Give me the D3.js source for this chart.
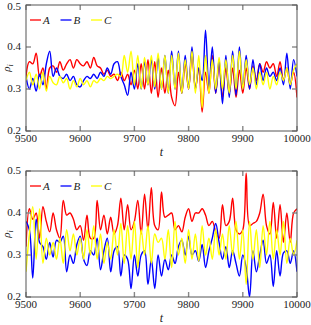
<!DOCTYPE html>
<html>
<head>
<meta charset="utf-8">
<script src="https://cdn.jsdelivr.net/npm/d3@7"></script>
<style>
  body { margin: 0; background: #fff; }
  svg { display: block; }
  text { font-family: "Liberation Serif", "DejaVu Serif", serif; fill: #222; }
</style>
</head>
<body>
<script>
// sampling grid of the time axis (every 6.25 time units)
let tVals = d3.range(81).map(function (i) { return 9500 + i * 6.25 })

let xTicks = [9500, 9600, 9700, 9800, 9900, 10000]
let yTicks = [0.2, 0.3, 0.4, 0.5]
let names = ['A', 'B', 'C']
let colors = ['#ff0000', '#0000ff', '#ffff00']

// top panel
let topA = [0.33, 0.365, 0.36, 0.385, 0.33, 0.35, 0.30, 0.35, 0.355, 0.34,
  0.365, 0.345, 0.36, 0.37, 0.35, 0.37, 0.36, 0.355, 0.365, 0.35,
  0.375, 0.355, 0.35, 0.335, 0.345, 0.33, 0.335, 0.32, 0.34, 0.32,
  0.335, 0.31, 0.345, 0.30, 0.36, 0.30, 0.37, 0.29, 0.365, 0.28,
  0.35, 0.29, 0.345, 0.28, 0.26, 0.34, 0.29, 0.36, 0.30, 0.385,
  0.30, 0.35, 0.245, 0.34, 0.29, 0.38, 0.29, 0.36, 0.28, 0.35,
  0.29, 0.35, 0.28, 0.345, 0.29, 0.35, 0.30, 0.355, 0.32, 0.36,
  0.34, 0.365, 0.35, 0.36, 0.33, 0.365, 0.32, 0.35, 0.31, 0.34, 0.28]
let topB = [0.33, 0.30, 0.325, 0.295, 0.335, 0.31, 0.36, 0.39, 0.33, 0.35,
  0.33, 0.325, 0.335, 0.32, 0.33, 0.31, 0.305, 0.32, 0.33, 0.325,
  0.335, 0.325, 0.34, 0.33, 0.35, 0.335, 0.36, 0.365, 0.33, 0.31,
  0.285, 0.34, 0.30, 0.36, 0.30, 0.365, 0.31, 0.37, 0.30, 0.375,
  0.30, 0.38, 0.29, 0.39, 0.30, 0.39, 0.29, 0.38, 0.30, 0.40,
  0.30, 0.35, 0.32, 0.44, 0.30, 0.40, 0.29, 0.37, 0.265, 0.38,
  0.28, 0.39, 0.285, 0.40, 0.30, 0.38, 0.30, 0.37, 0.31, 0.36,
  0.32, 0.35, 0.33, 0.34, 0.32, 0.35, 0.31, 0.385, 0.30, 0.37, 0.33]
let topC = [0.32, 0.34, 0.31, 0.335, 0.30, 0.34, 0.295, 0.33, 0.315, 0.31,
  0.33, 0.315, 0.325, 0.30, 0.32, 0.305, 0.325, 0.31, 0.32, 0.305,
  0.32, 0.315, 0.325, 0.32, 0.33, 0.325, 0.33, 0.335, 0.33, 0.38,
  0.34, 0.39, 0.31, 0.38, 0.30, 0.375, 0.31, 0.38, 0.305, 0.385,
  0.30, 0.38, 0.29, 0.38, 0.30, 0.385, 0.29, 0.37, 0.30, 0.39,
  0.29, 0.38, 0.255, 0.38, 0.29, 0.37, 0.30, 0.375, 0.30, 0.37,
  0.29, 0.38, 0.30, 0.39, 0.30, 0.37, 0.31, 0.35, 0.30, 0.34,
  0.31, 0.34, 0.30, 0.33, 0.31, 0.34, 0.32, 0.35, 0.31, 0.345, 0.36]

// bottom panel
let botA = [0.32, 0.41, 0.385, 0.40, 0.34, 0.415, 0.38, 0.355, 0.40, 0.36,
  0.34, 0.43, 0.395, 0.40, 0.385, 0.36, 0.37, 0.335, 0.395, 0.34,
  0.34, 0.43, 0.36, 0.395, 0.35, 0.39, 0.35, 0.37, 0.435, 0.36,
  0.42, 0.36, 0.38, 0.43, 0.35, 0.445, 0.36, 0.46, 0.37, 0.36,
  0.45, 0.39, 0.395, 0.40, 0.36, 0.37, 0.355, 0.39, 0.41, 0.38,
  0.40, 0.40, 0.41, 0.395, 0.37, 0.38, 0.355, 0.34, 0.42, 0.37,
  0.38, 0.435, 0.36, 0.35, 0.36, 0.495, 0.37, 0.375, 0.38, 0.40,
  0.445, 0.37, 0.35, 0.425, 0.34, 0.42, 0.33, 0.40, 0.33, 0.40, 0.41]
let botB = [0.38, 0.36, 0.245, 0.385, 0.33, 0.32, 0.29, 0.33, 0.295, 0.335,
  0.33, 0.345, 0.26, 0.30, 0.28, 0.325, 0.345, 0.29, 0.275, 0.31,
  0.30, 0.34, 0.265, 0.31, 0.34, 0.26, 0.31, 0.32, 0.25, 0.30,
  0.29, 0.22, 0.30, 0.25, 0.30, 0.31, 0.23, 0.29, 0.22, 0.30,
  0.25, 0.29, 0.265, 0.30, 0.28, 0.32, 0.335, 0.30, 0.345, 0.30,
  0.31, 0.285, 0.325, 0.27, 0.31, 0.34, 0.375, 0.33, 0.29, 0.32,
  0.27, 0.31, 0.28, 0.25, 0.30, 0.27, 0.20, 0.31, 0.26, 0.30,
  0.335, 0.28, 0.30, 0.225, 0.31, 0.25, 0.305, 0.31, 0.28, 0.31, 0.26]
let botC = [0.26, 0.35, 0.415, 0.29, 0.41, 0.28, 0.34, 0.30, 0.33, 0.29,
  0.34, 0.28, 0.36, 0.31, 0.35, 0.30, 0.34, 0.29, 0.36, 0.30,
  0.37, 0.29, 0.35, 0.28, 0.33, 0.29, 0.36, 0.30, 0.375, 0.28,
  0.37, 0.29, 0.38, 0.27, 0.36, 0.30, 0.37, 0.28, 0.35, 0.33,
  0.34, 0.29, 0.36, 0.27, 0.38, 0.30, 0.34, 0.28, 0.36, 0.29,
  0.35, 0.285, 0.37, 0.30, 0.34, 0.29, 0.36, 0.30, 0.35, 0.29,
  0.37, 0.30, 0.38, 0.29, 0.36, 0.23, 0.38, 0.29, 0.36, 0.27,
  0.37, 0.30, 0.38, 0.29, 0.36, 0.30, 0.38, 0.28, 0.34, 0.30, 0.335]

let W = 311, H = 325
let left = 26, right = 297

let svg = d3.select('body').append('svg').attr('width', W).attr('height', H)

let x = d3.scaleLinear().domain([9500, 10000]).range([left, right])

function panel (id, top, bottom, series) {
  let y = d3.scaleLinear().domain([0.2, 0.5]).range([bottom, top])
  let g = svg.append('g')

  g.append('clipPath').attr('id', 'clip' + id)
    .append('rect').attr('x', left).attr('y', top).attr('width', right - left).attr('height', bottom - top)

  let line = d3.line()
    .x(function (d, i) { return x(tVals[i]) })
    .y(function (d) { return y(d) })
    .curve(d3.curveCatmullRom.alpha(0.5))

  g.append('g').attr('clip-path', 'url(#clip' + id + ')')
    .selectAll('path').data(series).enter().append('path')
    .attr('d', function (d) { return line(d) })
    .attr('fill', 'none')
    .attr('stroke', function (d, i) { return colors[i] })
    .attr('stroke-width', 1.4)
    .attr('stroke-linejoin', 'round')

  // inward ticks on all four sides
  let tk = 5
  let ticks = g.append('g').attr('stroke', '#888').attr('stroke-width', 1.4)
  xTicks.forEach(function (t) {
    ticks.append('line').attr('x1', x(t)).attr('x2', x(t)).attr('y1', bottom).attr('y2', bottom - tk)
    ticks.append('line').attr('x1', x(t)).attr('x2', x(t)).attr('y1', top).attr('y2', top + tk)
  })
  yTicks.forEach(function (v) {
    ticks.append('line').attr('x1', left).attr('x2', left + tk).attr('y1', y(v)).attr('y2', y(v))
    ticks.append('line').attr('x1', right).attr('x2', right - tk).attr('y1', y(v)).attr('y2', y(v))
  })

  g.append('rect').attr('x', left).attr('y', top).attr('width', right - left).attr('height', bottom - top)
    .attr('fill', 'none').attr('stroke', '#555').attr('stroke-width', 1)

  g.selectAll('text.xt').data(xTicks).enter().append('text')
    .attr('x', function (d) { return x(d) }).attr('y', bottom + 11)
    .attr('text-anchor', 'middle').attr('font-size', 11)
    .text(function (d) { return d })

  g.selectAll('text.yt').data(yTicks).enter().append('text')
    .attr('x', left - 5).attr('y', function (d) { return Math.max(y(d) + 3, 10) })
    .attr('text-anchor', 'end').attr('font-size', 11)
    .text(function (d) { return d.toFixed(1) })

  g.append('text').attr('x', (left + right) / 2).attr('y', bottom + 25)
    .attr('text-anchor', 'middle').attr('font-size', 12).attr('font-style', 'italic').text('t')

  let yl = g.append('text').attr('transform', 'translate(10,' + ((top + bottom) / 2) + ') rotate(-90)')
    .attr('text-anchor', 'middle').attr('font-size', 11).attr('font-style', 'italic')
  yl.append('tspan').text('ρ')
  yl.append('tspan').attr('font-size', 8).attr('dy', 3).text('i')

  // legend
  let lg = g.append('g').attr('transform', 'translate(30,' + (top + 15) + ')')
  names.forEach(function (n, i) {
    let ox = i * 30.5
    lg.append('line').attr('x1', ox).attr('x2', ox + 11).attr('y1', 0).attr('y2', 0)
      .attr('stroke', colors[i]).attr('stroke-width', 1.3)
    lg.append('text').attr('x', ox + 13).attr('y', 4).attr('font-size', 11).attr('font-style', 'italic').text(n)
  })
}

panel(1, 5, 131, [topA, topB, topC])
panel(2, 171, 297, [botA, botB, botC])
</script>
</body>
</html>
